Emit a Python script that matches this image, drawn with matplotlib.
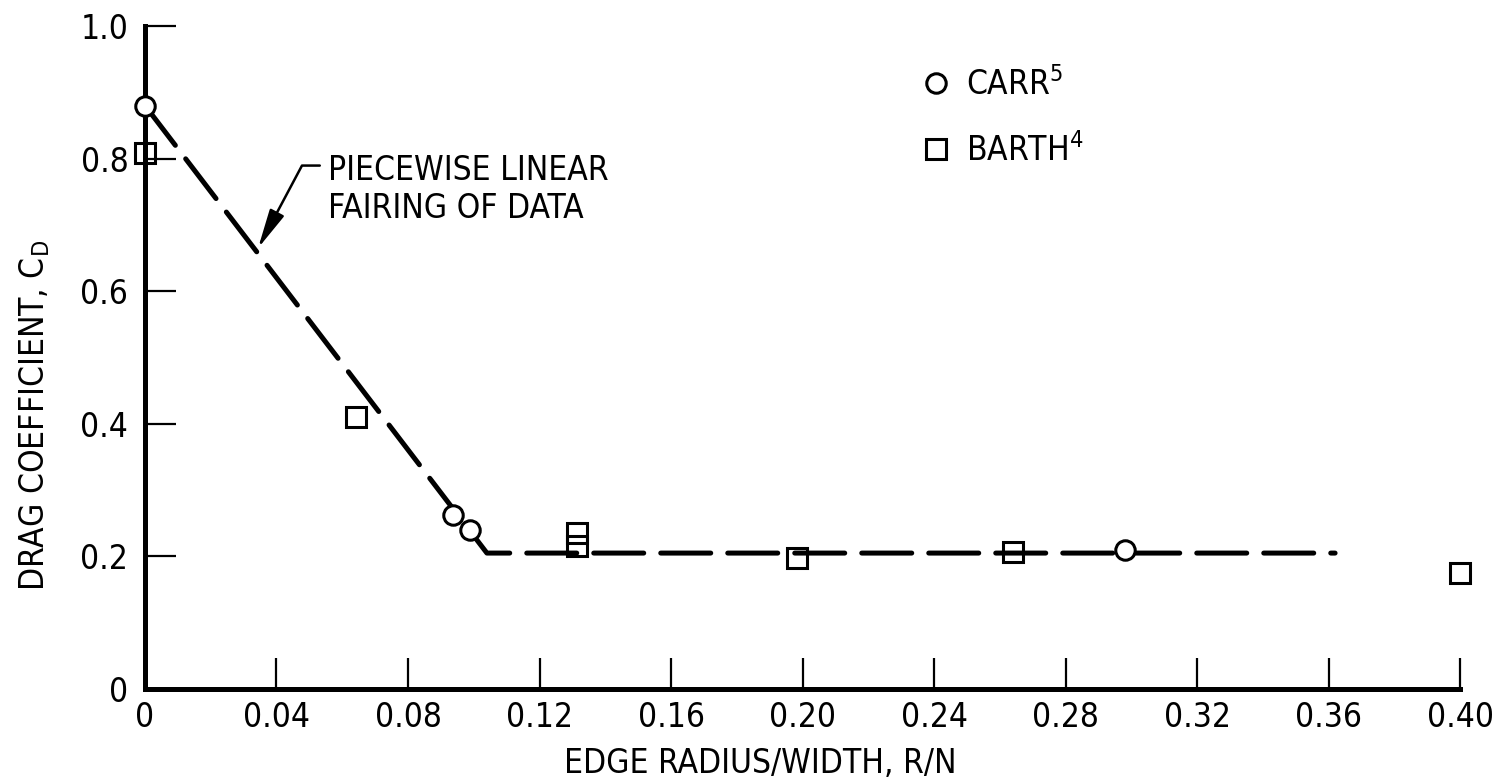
import matplotlib
matplotlib.use("Agg")
import matplotlib.pyplot as plt
from matplotlib import font_manager

# pick a narrow sans if it is there
names = {f.name for f in font_manager.fontManager.ttflist}
if "Liberation Sans Narrow" in names:
    plt.rcParams['font.family'] = ['Liberation Sans Narrow', 'DejaVu Sans']
else:
    plt.rcParams['font.family'] = ['DejaVu Sans']
    plt.rcParams['font.stretch'] = 'condensed'
plt.rcParams['mathtext.default'] = 'regular'

# data
carr_x = [0.0, 0.0937, 0.0989, 0.298]
carr_cd = [0.88, 0.262, 0.240, 0.210]

barth_x = [0.0, 0.0642, 0.1314, 0.1314, 0.1984, 0.264, 0.40]
barth_cd = [0.808, 0.410, 0.236, 0.215, 0.197, 0.206, 0.175]

# piecewise linear fairing
fair_x = [0.0, 0.104, 0.362]
fair_cd = [0.88, 0.205, 0.205]

x_ticks = [0, 0.04, 0.08, 0.12, 0.16, 0.20, 0.24, 0.28, 0.32, 0.36, 0.40]
x_labels = ['0', '0.04', '0.08', '0.12', '0.16', '0.20', '0.24', '0.28', '0.32', '0.36', '0.40']
y_ticks = [0, 0.2, 0.4, 0.6, 0.8, 1.0]
y_labels = ['0', '0.2', '0.4', '0.6', '0.8', '1.0']

fig = plt.figure(figsize=(15.01, 7.84), dpi=100)
ax = fig.add_axes([0.0966, 0.1212, 0.8761, 0.8456])

line, = ax.plot(fair_x, fair_cd, color='black', lw=3.6, dash_capstyle='round',
                solid_capstyle='round', zorder=2)
line.set_dashes((10, 3.4))

ax.plot(carr_x, carr_cd, 'o', ms=14, mfc='white', mec='black', mew=2.2,
        clip_on=False, zorder=3, label='CARR$^{5}$')
ax.plot(barth_x, barth_cd, 's', ms=14, mfc='none', mec='black', mew=2.2,
        clip_on=False, zorder=3, label='BARTH$^{4}$')

ax.set_xlim(0, 0.40)
ax.set_ylim(0, 1.0)
ax.set_xticks(x_ticks)
ax.set_xticklabels(x_labels)
ax.set_yticks(y_ticks)
ax.set_yticklabels(y_labels)

for side in ['top', 'right']:
    ax.spines[side].set_visible(False)
for side in ['left', 'bottom']:
    ax.spines[side].set_linewidth(3.6)
    ax.spines[side].set_capstyle('projecting')

ax.tick_params(axis='both', direction='in', length=22, width=1.6, labelsize=24)
ax.tick_params(axis='x', pad=9)
ax.tick_params(axis='y', pad=12)

ax.set_xlabel('EDGE RADIUS/WIDTH, R/N', fontsize=24, va='center')
ax.xaxis.set_label_coords(0.468, -0.112)
ax.set_ylabel('DRAG COEFFICIENT, C$_{D}$', fontsize=24, va='center')
ax.yaxis.set_label_coords(-0.084, 0.413)

ax.annotate('PIECEWISE LINEAR\nFAIRING OF DATA', xy=(0.0344, 0.665),
            xytext=(0.0557, 0.753), fontsize=24, ha='left', va='center',
            arrowprops=dict(arrowstyle='-|>,head_length=1.0,head_width=0.2',
                            color='black', lw=1.8,
                            connectionstyle='angle,angleA=0,angleB=62,rad=0',
                            relpos=(0, 0.84), shrinkA=4, shrinkB=0))

ax.legend(loc='upper left', bbox_to_anchor=(0.591, 0.938), frameon=False,
          fontsize=24, handlelength=0.8, handletextpad=0.5, labelspacing=0.93,
          borderpad=0, borderaxespad=0, numpoints=1)

fig.savefig('out.png', dpi=100)
